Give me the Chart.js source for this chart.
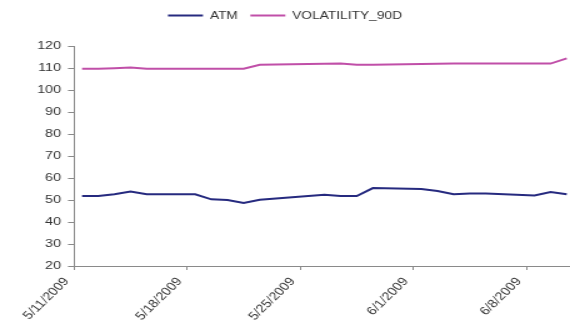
<!DOCTYPE html>
<html>
<head>
<meta charset="utf-8">
<script src="https://cdn.jsdelivr.net/npm/chart.js@4"></script>
<style>
  html, body { margin: 0; padding: 0; background: #fff; overflow: hidden; }
</style>
</head>
<body>
<!-- the drawing surface is laid out narrower and widened on screen -->
<canvas id="c" width="456" height="322" style="display:block;width:570px;height:322px"></canvas>
<script>
// Trading days
const dates = [
  '5/11/2009', '5/12/2009', '5/13/2009', '5/14/2009', '5/15/2009',
  '5/18/2009', '5/19/2009', '5/20/2009', '5/21/2009', '5/22/2009',
  '5/26/2009', '5/27/2009', '5/28/2009', '5/29/2009',
  '6/1/2009', '6/2/2009', '6/3/2009', '6/4/2009', '6/5/2009',
  '6/8/2009', '6/9/2009', '6/10/2009'
];

const atm = [
  51.8, 51.8, 52.6, 53.8, 52.6,
  52.6, 50.3, 50.0, 48.6, 50.1,
  52.4, 51.8, 51.8, 55.4,
  55.0, 54.1, 52.6, 53.0, 53.0,
  52.1, 53.6, 52.6
];

const volatility90d = [
  109.7, 109.7, 109.9, 110.2, 109.7,
  109.7, 109.7, 109.7, 109.7, 111.5,
  111.9, 112.0, 111.5, 111.5,
  111.8, 111.9, 112.0, 112.0, 112.0,
  112.0, 112.0, 114.4
];

// Weekly labels on the date axis
const xTickLabels = ['5/11/2009', '5/18/2009', '5/25/2009', '6/1/2009', '6/8/2009'];

const yMin = 20, yMax = 120, yStep = 10;

// days counted from the first axis date; each day's point sits mid-day
const origin = Date.UTC(2009, 4, 11);
function dayOffset(s) {
  const [m, d, y] = s.split('/').map(Number);
  return Math.round((Date.UTC(y, m - 1, d) - origin) / 86400000);
}
const toPoints = vals => vals.map((v, i) => ({ x: dayOffset(dates[i]) + 0.5, y: v }));
const tickByDay = {};
xTickLabels.forEach(l => { tickByDay[dayOffset(l)] = l; });

const font = { family: "'Liberation Sans', Arial, sans-serif", size: 11 };
const textColor = '#333333';
const axisColor = '#8a8a8a';

// extra room under the legend
const legendSpacer = {
  id: 'legendSpacer',
  beforeInit(chart) {
    const fit = chart.legend.fit;
    chart.legend.fit = function () {
      fit.call(this);
      this.height += 15;
    };
  }
};

new Chart(document.getElementById('c'), {
  type: 'line',
  data: {
    datasets: [
      {
        label: 'ATM',
        data: toPoints(atm),
        borderColor: '#262a7f',
        backgroundColor: '#262a7f',
        borderWidth: 2,
        pointRadius: 0,
        tension: 0
      },
      {
        label: 'VOLATILITY_90D',
        data: toPoints(volatility90d),
        borderColor: '#c04fa8',
        backgroundColor: '#c04fa8',
        borderWidth: 2,
        pointRadius: 0,
        tension: 0
      }
    ]
  },
  options: {
    responsive: false,
    animation: false,
    devicePixelRatio: 1,
    layout: { padding: { left: 0, right: 0, top: 0, bottom: 0 } },
    plugins: {
      legend: {
        position: 'top',
        labels: {
          font: font,
          color: textColor,
          usePointStyle: true,
          pointStyle: 'line',
          pointStyleWidth: 28,
          boxHeight: 2,
          padding: 10
        }
      },
      tooltip: { enabled: false }
    },
    scales: {
      x: {
        type: 'linear',
        min: 0,
        max: 30.7,
        afterFit(scale) { scale.height = 56; },
        border: { display: true, color: axisColor, width: 1 },
        grid: { display: true, drawOnChartArea: false, drawTicks: true, tickLength: 4, color: axisColor },
        ticks: {
          stepSize: 7,
          includeBounds: false,
          autoSkip: false,
          minRotation: 50,
          maxRotation: 50,
          padding: 5,
          labelOffset: -6,
          font: { family: font.family, size: 11.5 },
          color: textColor,
          callback: v => tickByDay[v] || ''
        }
      },
      y: {
        min: yMin,
        max: yMax,
        afterFit(scale) { scale.width = 59.2; },
        border: { display: true, color: axisColor, width: 1 },
        grid: { display: true, drawOnChartArea: false, drawTicks: true, tickLength: 4.8, color: axisColor },
        ticks: {
          stepSize: yStep,
          padding: 5.5,
          font: { family: font.family, size: 11.5 },
          color: textColor
        }
      }
    }
  },
  plugins: [legendSpacer]
});
</script>
</body>
</html>
